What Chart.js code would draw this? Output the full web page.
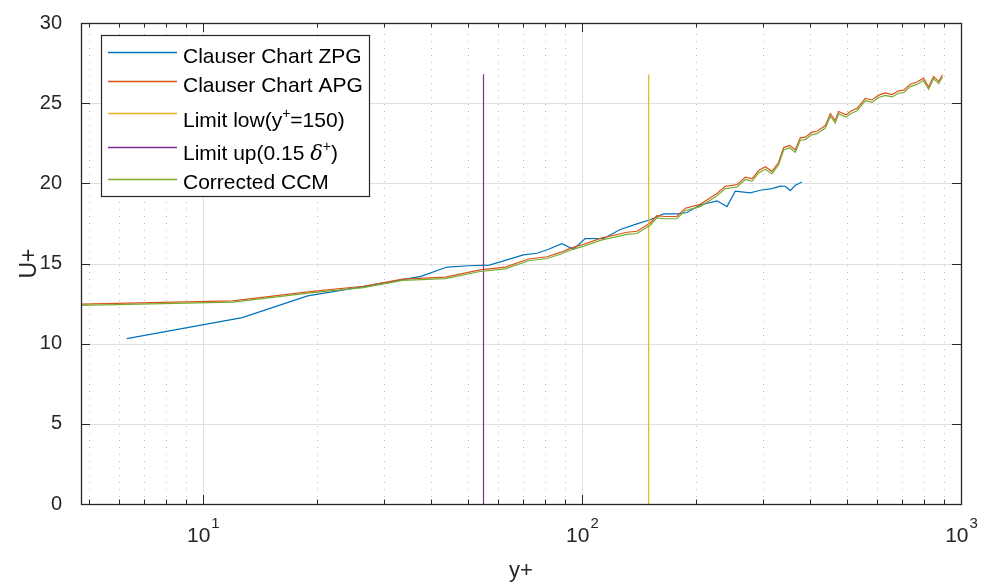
<!DOCTYPE html>
<html>
<head>
<meta charset="utf-8">
<script src="https://cdn.jsdelivr.net/npm/chart.js@4/dist/chart.umd.min.js"></script>
<style>
  html, body { margin: 0; padding: 0; background: #fff; }
  #wrap { width: 982px; height: 584px; position: relative; }
</style>
</head>
<body>
<div id="wrap"><canvas id="c" width="982" height="584"></canvas></div>
<script>
// Clauser chart, zero pressure gradient profile
const zpgYPlus = [6.3, 12.7, 18.9, 26.5, 37.6, 44.1, 50.4, 57.0, 70.1, 76.1, 81.6, 88.5, 95.0,
  102.0, 114.1, 126.2, 139.7, 151.4, 164.2, 178.1, 189.3, 205.2, 227.1, 241.4, 253.7, 277.9,
  295.3, 317.1, 333.5, 343.8, 354.4, 365.5, 380.5];
const zpgU = [10.32, 11.62, 12.98, 13.56, 14.2, 14.78, 14.86, 14.9, 15.54, 15.64, 15.89, 16.24, 15.89,
  16.55, 16.56, 17.12, 17.47, 17.73, 18.1, 18.1, 18.18, 18.65, 18.91, 18.55, 19.51, 19.4,
  19.57, 19.67, 19.83, 19.82, 19.55, 19.88, 20.08];

// Clauser chart, adverse pressure gradient profile (and its corrected version)
const apgYPlus = [4.77, 12.0, 19.2, 26.5, 33.7, 43.6, 53.9, 62.8, 72.3, 80.9, 87.7, 94.2, 101,
  112.9, 123.7, 131.5, 139.7, 151.4, 157.7, 165.8, 178.1, 187.4, 205.2, 218.1, 227.1, 238.9,
  256.5, 269.8, 281.2, 292.6, 304.6, 317.1, 330.1, 340.5, 353.1, 365.5, 376.7, 388.2, 404.6,
  417.0, 438.6, 452.1, 465.9, 475.2, 497.9, 510.2, 531.6, 558.9, 582.6, 606.4, 631.6, 657.6,
  684.5, 705.7, 735.3, 765.3, 796.6, 821.1, 846.7, 873.2, 894.1];
const apgU = [12.47, 12.67, 13.25, 13.58, 14.03, 14.15, 14.6, 14.77, 15.28, 15.42, 15.69, 15.99, 16.2,
  16.6, 16.81, 16.95, 17.01, 17.53, 17.98, 17.93, 17.93, 18.45, 18.69, 19.1, 19.37, 19.82,
  19.92, 20.39, 20.29, 20.8, 21.03, 20.75, 21.3, 22.23, 22.37, 22.09, 22.84, 22.88, 23.19,
  23.25, 23.6, 24.34, 23.91, 24.48, 24.28, 24.48, 24.68, 25.3, 25.2, 25.5, 25.64, 25.54,
  25.77, 25.81, 26.18, 26.32, 26.56, 26.01, 26.67, 26.36, 26.77];
const ccmU = [12.39, 12.59, 13.17, 13.50, 13.95, 14.06, 14.50, 14.67, 15.17, 15.31, 15.58, 15.87, 16.08,
  16.47, 16.68, 16.82, 16.87, 17.39, 17.84, 17.79, 17.79, 18.31, 18.55, 18.95, 19.22, 19.67,
  19.77, 20.24, 20.14, 20.65, 20.88, 20.60, 21.15, 22.08, 22.22, 21.94, 22.69, 22.73, 23.04,
  23.10, 23.45, 24.19, 23.76, 24.33, 24.13, 24.33, 24.53, 25.15, 25.05, 25.35, 25.49, 25.39,
  25.62, 25.66, 26.03, 26.17, 26.41, 25.87, 26.53, 26.22, 26.63];

// Fit-range limits
const limitLowYPlus = 150;
const limitUpYPlus = 55;
const limitSpanU = [0, 26.8];

// Axis ranges and ticks
const xRange = [4.77, 1000];
const xDecades = [10, 100, 1000];
const yTicks = [0, 5, 10, 15, 20, 25, 30];

const FONT = "'Liberation Sans', Arial, Helvetica, sans-serif";
const INK = '#262626';
const COLORS = { zpg: '#0072BD', apg: '#D95319', low: '#EDB120', up: '#7E2F8E', ccm: '#77AC30' };

const pts = (xs, ys) => xs.map((x, i) => ({ x, y: ys[i] }));
const vline = (x) => limitSpanU.map(u => ({ x, y: u }));

const lineStyle = (color, order) => ({
  showLine: true, borderColor: color, backgroundColor: color, borderWidth: 1.2,
  pointRadius: 0, pointHoverRadius: 0, tension: 0, fill: false, order
});

const datasets = [
  { label: 'Clauser Chart ZPG', data: pts(zpgYPlus, zpgU), ...lineStyle(COLORS.zpg, 4) },
  { label: 'Clauser Chart APG', data: pts(apgYPlus, apgU), ...lineStyle(COLORS.apg, 3) },
  { label: 'Limit low', data: vline(limitLowYPlus), ...lineStyle(COLORS.low, 2) },
  { label: 'Limit up', data: vline(limitUpYPlus), ...lineStyle(COLORS.up, 1) },
  { label: 'Corrected CCM', data: pts(apgYPlus, ccmU), ...lineStyle(COLORS.ccm, 0) }
];

// Gridlines behind the data
const gridPlugin = {
  id: 'matlabGrid',
  beforeDatasetsDraw(chart) {
    const { ctx, chartArea: a, scales: { x, y } } = chart;
    ctx.save();
    // minor x grid (dotted)
    ctx.strokeStyle = '#bdbdbd';
    ctx.lineWidth = 1;
    ctx.setLineDash([1, 6]);
    for (let d = 1; d <= 100; d *= 10) {
      for (let k = 2; k <= 9; k++) {
        const v = k * d;
        if (v < xRange[0] || v > xRange[1]) continue;
        const px = Math.round(x.getPixelForValue(v)) + 0.5;
        ctx.beginPath(); ctx.moveTo(px, a.bottom); ctx.lineTo(px, a.top); ctx.stroke();
      }
    }
    ctx.setLineDash([]);
    // major grid
    ctx.strokeStyle = '#e0e0e0';
    xDecades.forEach(v => {
      const px = Math.round(x.getPixelForValue(v)) + 0.5;
      ctx.beginPath(); ctx.moveTo(px, a.bottom); ctx.lineTo(px, a.top); ctx.stroke();
    });
    yTicks.forEach(v => {
      const py = Math.round(y.getPixelForValue(v)) + 0.5;
      ctx.beginPath(); ctx.moveTo(a.left, py); ctx.lineTo(a.right, py); ctx.stroke();
    });
    ctx.restore();
  }
};

function drawSup(ctx, parts, x, y) {
  // parts: [text, kind] where kind is 'n' normal, 's' superscript, 'i' italic
  let cx = x;
  parts.forEach(([t, kind]) => {
    if (kind === 's') { ctx.font = `14px ${FONT}`; ctx.fillText(t, cx, y - 9); }
    else if (kind === 'i') { ctx.font = `italic 21px 'DejaVu Serif', 'Liberation Serif', serif`; ctx.fillText(t, cx, y); }
    else { ctx.font = `21px ${FONT}`; ctx.fillText(t, cx, y); }
    cx += ctx.measureText(t).width;
  });
}

// Axes box, ticks, labels and legend
const framePlugin = {
  id: 'matlabFrame',
  afterDatasetsDraw(chart) {
    const { ctx, chartArea: a, scales: { x, y } } = chart;
    ctx.save();
    ctx.strokeStyle = INK;
    ctx.lineWidth = 1;
    // tick marks (inward, both sides)
    ctx.beginPath();
    for (let d = 1; d <= 1000; d *= 10) {
      for (let k = 1; k <= 9; k++) {
        const v = k * d;
        if (v < xRange[0] - 1e-9 || v > xRange[1] + 1e-9) continue;
        const len = k === 1 ? 9 : 4.5;
        const px = Math.round(x.getPixelForValue(v)) + 0.5;
        ctx.moveTo(px, a.bottom); ctx.lineTo(px, a.bottom - len);
        ctx.moveTo(px, a.top); ctx.lineTo(px, a.top + len);
      }
    }
    yTicks.forEach(v => {
      const py = Math.round(y.getPixelForValue(v)) + 0.5;
      ctx.moveTo(a.left, py); ctx.lineTo(a.left + 9, py);
      ctx.moveTo(a.right, py); ctx.lineTo(a.right - 9, py);
    });
    ctx.stroke();
    // box
    ctx.lineWidth = 1.3;
    ctx.strokeRect(Math.round(a.left) + 0.5, Math.round(a.top) + 0.5,
      Math.round(a.right - a.left), Math.round(a.bottom - a.top));

    // x tick labels 10^n
    ctx.fillStyle = INK;
    ctx.textBaseline = 'alphabetic';
    ctx.textAlign = 'left';
    xDecades.forEach(v => {
      const exp = String(Math.round(Math.log10(v)));
      ctx.font = `21px ${FONT}`;
      const wb = ctx.measureText('10').width;
      ctx.font = `15px ${FONT}`;
      const we = ctx.measureText(exp).width;
      const px = x.getPixelForValue(v);
      const sx = px - (wb + we) / 2;
      ctx.font = `21px ${FONT}`;
      ctx.fillText('10', sx, 542);
      ctx.font = `15px ${FONT}`;
      ctx.fillText(exp, sx + wb + 1, 528);
    });

    // axis titles
    ctx.font = `22px ${FONT}`;
    ctx.textAlign = 'center';
    ctx.fillText('y+', (a.left + a.right) / 2, 577);
    ctx.save();
    ctx.translate(36, (a.top + a.bottom) / 2);
    ctx.rotate(-Math.PI / 2);
    ctx.font = `23px ${FONT}`;
    ctx.fillText('U+', 0, 0);
    ctx.restore();

    // legend
    const L = { x: 101, y: 35, w: 268, h: 161 };
    ctx.fillStyle = '#fff';
    ctx.fillRect(L.x, L.y, L.w, L.h);
    ctx.strokeStyle = INK;
    ctx.lineWidth = 1.2;
    ctx.strokeRect(L.x + 0.5, L.y + 0.5, L.w, L.h);
    const rows = [
      { c: COLORS.zpg, ly: 52.5, by: 62.5, parts: [['Clauser Chart ZPG', 'n']] },
      { c: COLORS.apg, ly: 81.5, by: 91.5, parts: [['Clauser Chart APG', 'n']] },
      { c: COLORS.low, ly: 113.5, by: 126.5, parts: [['Limit low(y', 'n'], ['+', 's'], ['=150)', 'n']] },
      { c: COLORS.up, ly: 147.5, by: 160, parts: [['Limit up(0.15 ', 'n'], ['\u03B4', 'i'], ['+', 's'], [')', 'n']] },
      { c: COLORS.ccm, ly: 179.5, by: 188.5, parts: [['Corrected CCM', 'n']] }
    ];
    ctx.textAlign = 'left';
    rows.forEach(r => {
      ctx.strokeStyle = r.c;
      ctx.lineWidth = 1.3;
      ctx.beginPath(); ctx.moveTo(108, r.ly); ctx.lineTo(177, r.ly); ctx.stroke();
      ctx.fillStyle = '#000';
      drawSup(ctx, r.parts, 183, r.by);
    });
    ctx.restore();
  }
};

new Chart(document.getElementById('c'), {
  type: 'scatter',
  data: { datasets },
  options: {
    responsive: false,
    animation: false,
    layout: { padding: { top: 15, right: 21, left: 0, bottom: 0 } },
    plugins: { legend: { display: false }, tooltip: { enabled: false } },
    scales: {
      x: {
        type: 'logarithmic', min: xRange[0], max: xRange[1],
        ticks: { display: false }, grid: { display: false }, border: { display: false },
        afterFit(s) { s.height = 80; }
      },
      y: {
        type: 'linear', min: 0, max: 30,
        ticks: { stepSize: 5, padding: 11, color: INK, font: { family: FONT, size: 20 } },
        grid: { display: false }, border: { display: false },
        afterFit(s) { s.width = 81; }
      }
    }
  },
  plugins: [gridPlugin, framePlugin]
});
</script>
</body>
</html>
